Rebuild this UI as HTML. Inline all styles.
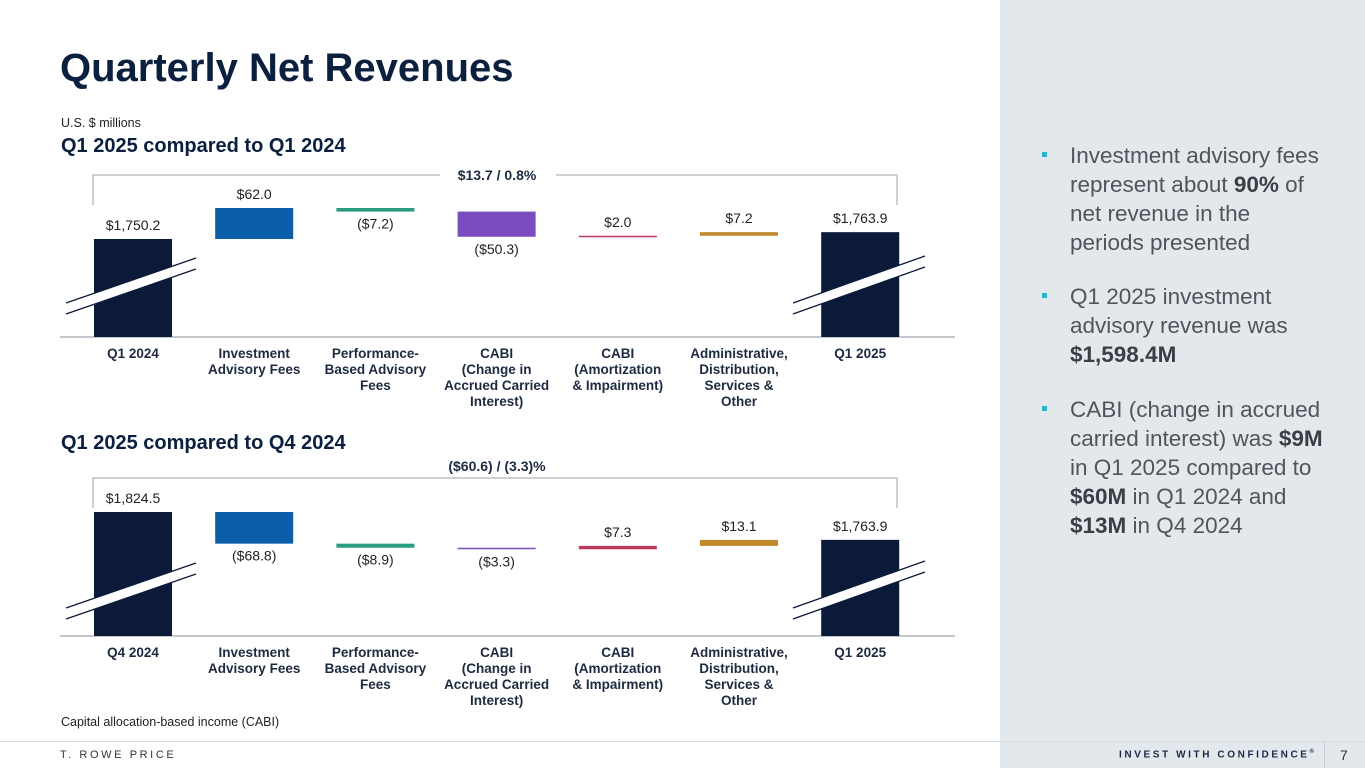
<!DOCTYPE html>
<html><head><meta charset="utf-8"><style>
body{margin:0;width:1365px;height:768px;overflow:hidden;background:#fff;font-family:"Liberation Sans",Arial,sans-serif;position:relative}
.abs{position:absolute}
#side{left:1000px;top:0;width:365px;height:741px;background:#e3e8ec}
.bul{position:absolute;left:1070px;width:290px;font-size:22.5px;line-height:29px;color:#50555b;white-space:nowrap}
.bul b{color:#3a3f45}
.sq{position:absolute;left:-28px;top:11px;width:5px;height:5px;background:#27b5cf}
svg text{font-family:"Liberation Sans",Arial,sans-serif}
</style></head><body>
<div id="side" class="abs"></div>
<div class="abs" style="left:60px;top:46px;font-size:40px;font-weight:bold;color:#0b1f3f">Quarterly Net Revenues</div>
<div class="abs" style="left:61px;top:116px;font-size:12.5px;color:#222">U.S. $ millions</div>
<div class="abs" style="left:61px;top:135px;font-size:20px;font-weight:bold;color:#0b1f3f">Q1 2025 compared to Q1 2024</div>
<div class="abs" style="left:61px;top:432px;font-size:20px;font-weight:bold;color:#0b1f3f">Q1 2025 compared to Q4 2024</div>
<div class="abs" style="left:61px;top:715px;font-size:12.5px;color:#222">Capital allocation-based income (CABI)</div>

<div class="bul" style="top:141px"><span class="sq"></span>Investment advisory fees<br>represent about <b>90%</b> of<br>net revenue in the<br>periods presented</div>
<div class="bul" style="top:282px"><span class="sq"></span>Q1 2025 investment<br>advisory revenue was<br><b>$1,598.4M</b></div>
<div class="bul" style="top:395px"><span class="sq"></span>CABI (change in accrued<br>carried interest) was <b>$9M</b><br>in Q1 2025 compared to<br><b>$60M</b> in Q1 2024 and<br><b>$13M</b> in Q4 2024</div>

<div class="abs" style="left:0;top:741px;width:1365px;height:1px;background:#d8dde2"></div>
<div class="abs" style="left:60px;top:749px;font-size:11px;letter-spacing:2.6px;color:#333">T. ROWE PRICE</div>
<div class="abs" style="left:1000px;top:742px;width:365px;height:26px;background:#e3e8ec"></div>
<div class="abs" style="left:1119px;top:749px;font-size:10px;font-weight:bold;letter-spacing:2.6px;color:#1b2a44;white-space:nowrap">INVEST WITH CONFIDENCE<sup style="font-size:6px">®</sup></div>
<div class="abs" style="left:1324px;top:742px;width:1px;height:26px;background:#c7cdd3"></div>
<div class="abs" style="left:1340px;top:747px;font-size:14px;color:#333">7</div>

<svg id="chart" class="abs" style="left:0;top:0" width="1000" height="741"></svg>

<script>
const categories1 = ["Q1 2024","Investment|Advisory Fees","Performance-|Based Advisory|Fees","CABI|(Change in|Accrued Carried|Interest)","CABI|(Amortization|& Impairment)","Administrative,|Distribution,|Services &|Other","Q1 2025"];
const categories2 = ["Q4 2024","Investment|Advisory Fees","Performance-|Based Advisory|Fees","CABI|(Change in|Accrued Carried|Interest)","CABI|(Amortization|& Impairment)","Administrative,|Distribution,|Services &|Other","Q1 2025"];
const start1 = 1750.2;
const deltas1 = [62.0, -7.2, -50.3, 2.0, 7.2];
const end1 = 1763.9;
const labels1 = ["$1,750.2","$62.0","($7.2)","($50.3)","$2.0","$7.2","$1,763.9"];
const bracket1 = "$13.7 / 0.8%";
const start2 = 1824.5;
const deltas2 = [-68.8, -8.9, -3.3, 7.3, 13.1];
const end2 = 1763.9;
const labels2 = ["$1,824.5","($68.8)","($8.9)","($3.3)","$7.3","$13.1","$1,763.9"];
const bracket2 = "($60.6) / (3.3)%";
const colors = ["#0a1a38","#0a5fa8","#2a9d7f","#7b4bc0","#c0375e","#c08a2a","#0a1a38"];

const svg = document.getElementById('chart');
const NS = "http://www.w3.org/2000/svg";
function mk(tag, attrs, parent){const e=document.createElementNS(NS,tag);for(const k in attrs)e.setAttribute(k,attrs[k]);(parent||svg).appendChild(e);return e;}
const xCenter = i => 133 + i*121.2;
const BW = 78;

function drawChart(o){
  const y = v => o.refY - (v - o.refV)*o.ppu;
  const g = mk('g',{});
  
  
  const ax = mk('line',{x1:60,x2:955,y1:o.base,y2:o.base,stroke:'#c4c8cc','stroke-width':2},g);
  
  
  let cum = o.start;
  const n = o.deltas.length + 2;
  for(let i=0;i<n;i++){
    let top, bot, above;
    if(i===0||i===n-1){
      const v = i===0?o.start:o.end;
      top = y(v); bot = o.base; above = true;
    } else {
      const d = o.deltas[i-1];
      const a = y(cum), b = y(cum+d);
      top = Math.min(a,b); bot = Math.max(a,b);
      if(bot-top<1.5) bot = top+1.5;
      above = d>0;
      cum += d;
    }
    const r = mk('rect',{x:xCenter(i)-BW/2,y:top,width:BW,height:bot-top,fill:colors[i]},g);
    
    
    const t = mk('text',{x:xCenter(i),y:above?top-9:bot+17,'text-anchor':'middle','font-size':14,fill:'#222'},g);
    t.textContent = o.labels[i];
    
    
    const lines = o.cats[i].split('|');
    const ct = mk('text',{x:xCenter(i),y:o.base+21,'text-anchor':'middle','font-size':13.5,'font-weight':'bold',fill:'#1d2b40'},g);
    
    
    lines.forEach((l,k)=>{const s=mk('tspan',{x:xCenter(i),dy:k?16:0},ct);s.textContent=l;});
  }
  [[66,o.brk,196,o.brk-45],[793,o.brk,925,o.brk-47]].forEach((p,k)=>{
    const b = mk('polygon',{points:`${p[0]},${p[1]} ${p[2]},${p[3]} ${p[2]},${p[3]+11} ${p[0]},${p[1]+11}`,fill:'#fff'},g);
    
    
    mk('line',{x1:p[0],y1:p[1],x2:p[2],y2:p[3],stroke:'#0a1a38','stroke-width':1.3},g);
    mk('line',{x1:p[0],y1:p[1]+11,x2:p[2],y2:p[3]+11,stroke:'#0a1a38','stroke-width':1.3},g);
  });
  const by = o.bY;
  const br = mk('path',{d:`M93,${by+30} V${by} H${o.gap?440:897} ${o.gap?`M556,${by} H897`:''} V${by+30}`,fill:'none',stroke:'#bfc3c7','stroke-width':1.5},g);
  
  
  const bt = mk('text',{x:497,y:o.gap?by+5:by-7,'text-anchor':'middle','font-size':14,'font-weight':'bold',fill:'#1d2b40'},g);
  bt.textContent = o.bracket;
  
  
}
drawChart({name:'chart-q1-vs-q1',start:start1,deltas:deltas1,end:end1,labels:labels1,cats:categories1,refV:1750.2,refY:239,ppu:0.5,base:337,brk:303,bY:175,gap:true,bracket:bracket1});
drawChart({name:'chart-q1-vs-q4',start:start2,deltas:deltas2,end:end2,labels:labels2,cats:categories2,refV:1824.5,refY:512,ppu:0.46,base:636,brk:608,bY:478,gap:false,bracket:bracket2});
</script>
</body></html>
